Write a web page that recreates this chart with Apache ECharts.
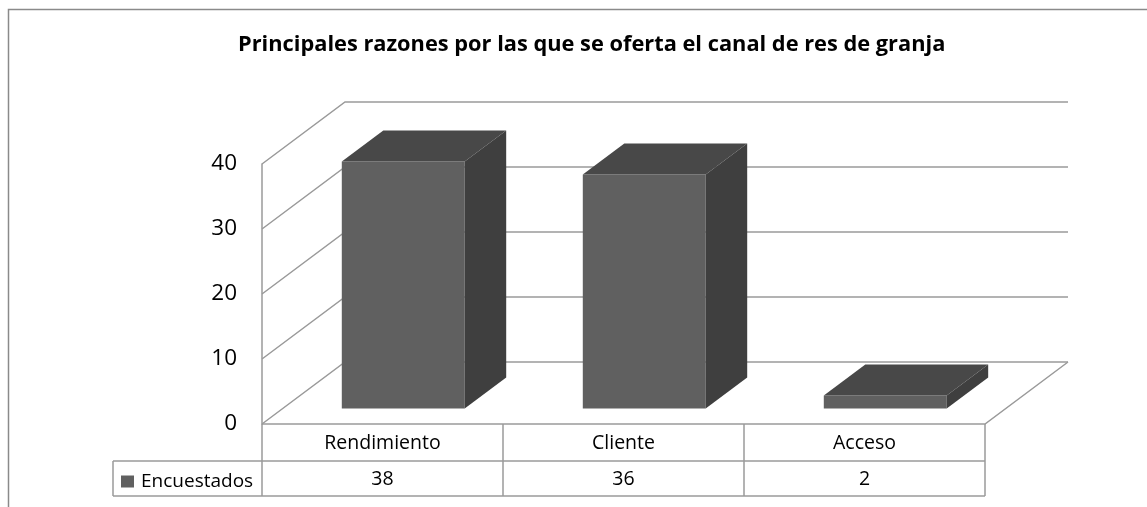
<!DOCTYPE html>
<html>
<head>
<meta charset="utf-8" />
<title>Principales razones</title>
<script src="https://cdn.jsdelivr.net/npm/echarts@6/dist/echarts.min.js"></script>
<style>
  html, body { margin: 0; padding: 0; background: #fff; }
  #chart { width: 1147px; height: 507px; }
</style>
</head>
<body>
<div id="chart"></div>
<script>
// datos
var categories = ['Rendimiento', 'Cliente', 'Acceso'];
var values = [38, 36, 2];
var seriesName = 'Encuestados';
var yTicks = [0, 10, 20, 30, 40];

// perspectiva (pixeles)
var DX = 83, DY = -62;
var FONT = 'Open Sans';
var LINE = '#9a9a9a';

function wallItem(params, api) {
  var cs = params.coordSys;
  var v = api.value(0);
  var y = api.coord([0, v])[1];
  var x0 = cs.x, x1 = cs.x + cs.width;
  var kids = [{
    type: 'polyline',
    shape: { points: [[x0, y], [x0 + DX, y + DY], [x1 + DX, y + DY]] },
    style: { stroke: LINE, lineWidth: 1.5, fill: null }
  }];
  if (v === 0) {
    kids.push({
      type: 'polyline',
      shape: { points: [[x0, y], [x1, y], [x1 + DX, y + DY]] },
      style: { stroke: LINE, lineWidth: 1.5, fill: null }
    });
  }
  return { type: 'group', children: kids };
}

function barItem(params, api) {
  var i = api.value(0);
  var top = api.coord([i, api.value(1)]);
  var base = api.coord([i, 0]);
  var w = api.size([1, 0])[0] * 0.51;
  var fx = top[0] - w / 2 + DX * 0.25;
  var ft = top[1] + DY * 0.25;
  var fb = base[1] + DY * 0.25;
  var bx = DX * 0.5, by = DY * 0.5;
  return {
    type: 'group',
    children: [
      { type: 'rect', shape: { x: fx, y: ft, width: w, height: fb - ft },
        style: { fill: '#606060' } },
      { type: 'polygon', shape: { points: [[fx, ft], [fx + w, ft], [fx + w + bx, ft + by], [fx + bx, ft + by]] },
        style: { fill: '#484848' } },
      { type: 'polygon', shape: { points: [[fx + w, ft], [fx + w + bx, ft + by], [fx + w + bx, fb + by], [fx + w, fb]] },
        style: { fill: '#3f3f3f' } }
    ]
  };
}

function tableItem(params, api) {
  var cs = params.coordSys;
  var i = api.value(0);
  var bw = api.size([1, 0])[0];
  var cx = api.coord([i, 0])[0];
  var y0 = cs.y + cs.height;
  var r1 = y0 + 37, r2 = y0 + 72;
  var kids = [
    { type: 'line', shape: { x1: cx + bw / 2, y1: y0, x2: cx + bw / 2, y2: r2 },
      style: { stroke: LINE, lineWidth: 1.5 } },
    { type: 'text', style: { text: categories[i], x: cx, y: (y0 + r1) / 2 + 1,
      align: 'center', verticalAlign: 'middle', fontSize: 19.5, fontFamily: FONT, fill: '#000' } },
    { type: 'text', style: { text: String(api.value(1)), x: cx, y: (r1 + r2) / 2 + 1,
      align: 'center', verticalAlign: 'middle', fontSize: 19.5, fontFamily: FONT, fill: '#000' } }
  ];
  if (i === 0) {
    var lx = cs.x - 149, rx = cs.x + cs.width;
    kids.push(
      { type: 'line', shape: { x1: cs.x, y1: y0, x2: cs.x, y2: r2 }, style: { stroke: LINE, lineWidth: 1.5 } },
      { type: 'line', shape: { x1: lx, y1: r1, x2: rx, y2: r1 }, style: { stroke: LINE, lineWidth: 1.5 } },
      { type: 'line', shape: { x1: lx, y1: r2, x2: rx, y2: r2 }, style: { stroke: LINE, lineWidth: 1.5 } },
      { type: 'line', shape: { x1: lx, y1: r1, x2: lx, y2: r2 }, style: { stroke: LINE, lineWidth: 1.5 } }
    );
  }
  return { type: 'group', children: kids };
}

var chart = echarts.init(document.getElementById('chart'));
chart.setOption({
  animation: false,
  title: {
    text: 'Principales razones por las que se oferta el canal de res de granja',
    left: 233, top: 29,
    textStyle: { fontSize: 21.8, fontWeight: 'bold', fontFamily: FONT, color: '#000' }
  },
  legend: {
    data: [seriesName],
    left: 116, top: 467,
    icon: 'rect', itemWidth: 13, itemHeight: 12, itemGap: 8,
    textStyle: { fontSize: 19, fontFamily: FONT, color: '#000', padding: [0, 0, 0, 2] }
  },
  graphic: [{
    type: 'rect', z: -10,
    shape: { x: 8.5, y: 9.5, width: 1200, height: 600 },
    style: { fill: null, stroke: '#8a8a8a', lineWidth: 1.5 }
  }],
  grid: { left: 262, right: 162, top: 164, bottom: 83 },
  xAxis: {
    type: 'category', data: categories,
    axisLine: { show: false }, axisTick: { show: false }, axisLabel: { show: false }
  },
  yAxis: {
    type: 'value', min: 0, max: 40, interval: 10,
    axisLine: { show: true, lineStyle: { color: LINE, width: 1.5 } },
    axisTick: { show: false },
    splitLine: { show: false },
    axisLabel: { fontSize: 22.5, margin: 25, fontFamily: FONT, color: '#000' }
  },
  series: [
    { name: 'walls', type: 'custom', renderItem: wallItem, silent: true,
      data: yTicks.map(function (t) { return [t]; }), encode: { y: 0 }, z: 1 },
    { name: seriesName, type: 'custom', renderItem: barItem,
      itemStyle: { color: '#606060' },
      data: values.map(function (v, i) { return [i, v]; }), encode: { x: 0, y: 1 }, z: 3 },
    { name: 'table', type: 'custom', renderItem: tableItem, silent: true,
      data: values.map(function (v, i) { return [i, v]; }), encode: { x: 0, y: 1 }, z: 2 }
  ]
});
</script>
</body>
</html>
